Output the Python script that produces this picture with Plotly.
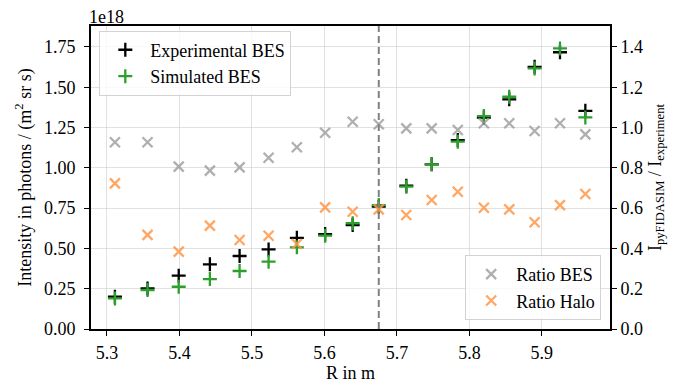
import plotly.graph_objects as go

# Radial positions (m)
R = [5.311, 5.356, 5.399, 5.442, 5.483, 5.523, 5.562, 5.601, 5.639, 5.675,
     5.713, 5.748, 5.784, 5.820, 5.855, 5.890, 5.925, 5.960]
# Intensities in units of 1e18 photons/(m^2 sr s)
exp_bes = [0.200, 0.252, 0.331, 0.401, 0.453, 0.494, 0.566, 0.589, 0.645, 0.759,
           0.889, 1.022, 1.172, 1.311, 1.425, 1.627, 1.717, 1.354]
sim_bes = [0.190, 0.242, 0.262, 0.310, 0.360, 0.418, 0.507, 0.579, 0.656, 0.769,
           0.883, 1.022, 1.162, 1.321, 1.441, 1.617, 1.741, 1.313]
# Ratios (right axis)
ratio_bes = [0.927, 0.927, 0.806, 0.786, 0.802, 0.850, 0.902, 0.974, 1.029, 1.016,
             0.996, 0.996, 0.988, 1.021, 1.021, 0.983, 1.021, 0.966]
ratio_halo = [0.723, 0.467, 0.384, 0.513, 0.442, 0.463, 0.422, 0.604, 0.582, 0.594,
              0.566, 0.640, 0.681, 0.602, 0.594, 0.530, 0.615, 0.670]
separatrix_R = 5.675

x_ticks = [5.3, 5.4, 5.5, 5.6, 5.7, 5.8, 5.9]
y_ticks = [0.0, 0.25, 0.5, 0.75, 1.0, 1.25, 1.5, 1.75]
y2_ticks = [0.0, 0.2, 0.4, 0.6, 0.8, 1.0, 1.2, 1.4]

FONT = "'Liberation Serif', 'Times New Roman', Times, 'DejaVu Serif', serif"
FS = 18
TF = dict(family=FONT, size=FS, color="black")

fig = go.Figure()

def add(x, y, name, symbol, color, legend, yaxis="y"):
    fig.add_trace(go.Scatter(
        x=x, y=y, mode="markers", name=name, yaxis=yaxis, legend=legend,
        marker=dict(symbol=symbol, size=10, color=color,
                    line=dict(width=2.3, color=color)),
    ))

add(R, ratio_bes, "Ratio BES", "x-thin", "rgba(155,155,155,0.8)", "legend2", "y2")
add(R, ratio_halo, "Ratio Halo", "x-thin", "rgba(255,150,70,0.85)", "legend2", "y2")
add(R, exp_bes, "Experimental BES", "cross-thin", "black", "legend")
add(R, sim_bes, "Simulated BES", "cross-thin", "#2ca02c", "legend")

fig.add_shape(type="line", x0=separatrix_R, x1=separatrix_R, y0=0, y1=1,
              xref="x", yref="paper",
              line=dict(color="rgb(128,128,128)", width=2, dash="7px,4px"))

axis_common = dict(showline=True, linecolor="black", linewidth=1.6,
                   ticks="outside", ticklen=5, tickwidth=1.3, tickcolor="black",
                   tickfont=TF, zeroline=False, automargin=False)

# the page body adds an 8px offset; size the figure to compensate
fig.update_layout(
    width=672, height=377,
    margin=dict(l=83, r=70, t=18, b=56),
    plot_bgcolor="white", paper_bgcolor="white",
    font=TF,
    showlegend=True,
    xaxis=dict(range=[5.278, 5.994], tickvals=x_ticks, ticktext=[f"{v:.1f}" for v in x_ticks],
               title=dict(text="R in m", standoff=2, font=TF), mirror=True,
               ticklabelstandoff=2,
               showgrid=True, gridcolor="rgba(200,200,200,0.55)", gridwidth=1, **axis_common),
    yaxis=dict(range=[0, 1.88], tickvals=y_ticks, ticktext=[f"{v:.2f}" for v in y_ticks],
               title=dict(text="Intensity in photons / (m<sup>2</sup> sr s)", standoff=8, font=TF),
               ticklabelstandoff=5,
               showgrid=True, gridcolor="rgba(200,200,200,0.55)", gridwidth=1, **axis_common),
    yaxis2=dict(range=[0, 1.504], overlaying="y", side="right",
                tickvals=y2_ticks, ticktext=[f"{v:.1f}" for v in y2_ticks],
                title=dict(text="I<sub>pyFIDASIM</sub> / I<sub>experiment</sub>", standoff=6, font=TF),
                showgrid=False, **axis_common),
    legend=dict(x=0.016, y=0.985, xanchor="left", yanchor="top", itemwidth=40,
                bgcolor="rgba(255,255,255,0.8)", bordercolor="rgb(210,210,210)", borderwidth=1,
                font=TF, traceorder="normal"),
    legend2=dict(x=0.983, y=0.03, xanchor="right", yanchor="bottom", itemwidth=40,
                 bgcolor="rgba(255,255,255,0.8)", bordercolor="rgb(210,210,210)", borderwidth=1,
                 font=TF, traceorder="normal"),
    annotations=[dict(text="1e18", xref="paper", yref="paper", x=0, y=1,
                      xanchor="left", yanchor="bottom", xshift=-4, yshift=-3, showarrow=False,
                      font=TF)],
)

fig.write_html("out.html")
